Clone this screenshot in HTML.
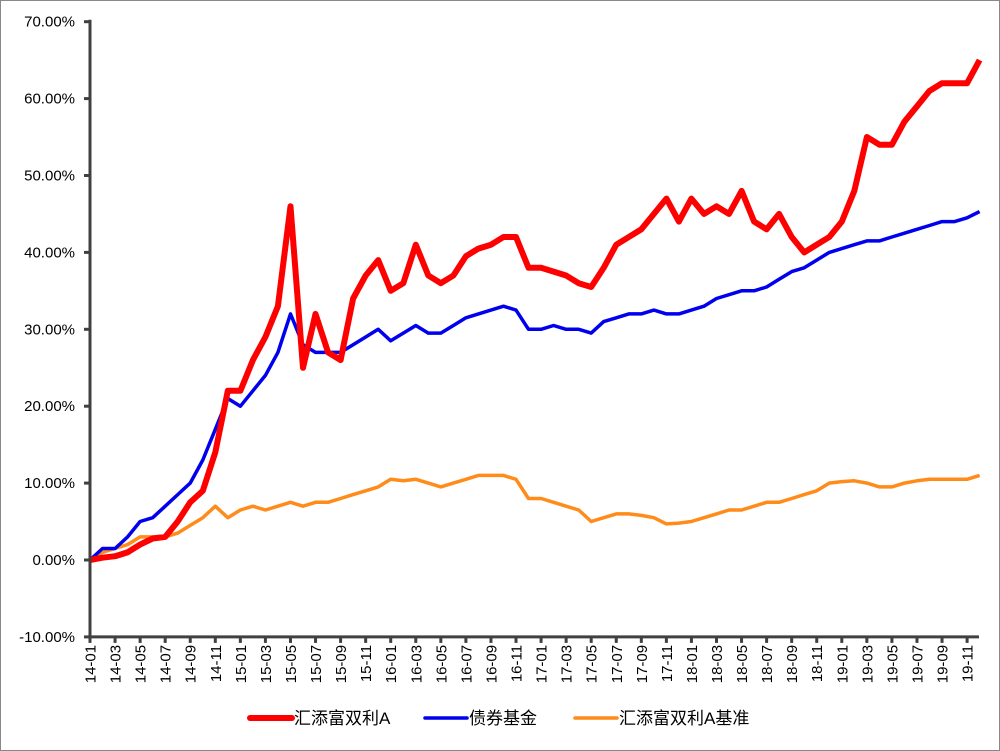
<!DOCTYPE html>
<html><head><meta charset="utf-8"><style>
html,body{margin:0;padding:0;background:#fff}
svg{display:block}
text{font-family:"Liberation Sans","Noto Sans CJK SC",sans-serif;fill:#000}
</style></head><body>
<svg id="chart" width="1000" height="751" viewBox="0 0 1000 751">
<rect x="0.5" y="0.5" width="999" height="750" fill="#fff" stroke="#888"/>
<g id="grid"></g>
<g id="series"></g>
<g id="axes"></g>
<g id="legend"></g>
</svg>
<script>
const months = [];
for (let y = 14; y <= 19; y++) for (let m = 1; m <= 12; m++) months.push(y + '-' + String(m).padStart(2, '0'));
const yTicks = [-10, 0, 10, 20, 30, 40, 50, 60, 70];
const fundValues = [0,0.3,0.5,1.0,2.0,2.8,3.0,5,7.5,9,14,22,22,26,29,33,46,25,32,27,26,34,37,39,35,36,41,37,36,37,39.5,40.5,41,42,42,38,38,37.5,37,36,35.5,38,41,42,43,45,47,44,47,45,46,45,48,44,43,45,42,40,41,42,44,48,55,54,54,57,59,61,62,62,62,65];
const bondValues = [0,1.5,1.5,3,5,5.5,7,8.5,10,13,17,21,20,22,24,27,32,28,27,27,27,28,29,30,28.5,29.5,30.5,29.5,29.5,30.5,31.5,32,32.5,33,32.5,30,30,30.5,30,30,29.5,31,31.5,32,32,32.5,32,32,32.5,33,34,34.5,35,35,35.5,36.5,37.5,38,39,40,40.5,41,41.5,41.5,42,42.5,43,43.5,44,44,44.5,45.3];
const benchValues = [0,1,1.5,2,3,3,3,3.5,4.5,5.5,7,5.5,6.5,7,6.5,7,7.5,7,7.5,7.5,8,8.5,9,9.5,10.5,10.3,10.5,10,9.5,10,10.5,11,11,11,10.5,8,8,7.5,7,6.5,5,5.5,6,6,5.8,5.5,4.7,4.8,5,5.5,6,6.5,6.5,7,7.5,7.5,8,8.5,9,10,10.2,10.3,10,9.5,9.5,10,10.3,10.5,10.5,10.5,10.5,11];
const seriesNames = ['汇添富双利A', '债券基金', '汇添富双利A基准'];

const NS = 'http://www.w3.org/2000/svg';
const X0 = 90, XSTEP = 12.53, Y0 = 560, YUNIT = 7.69;
const xs = i => X0 + XSTEP * i;
const ys = v => Y0 - YUNIT * v;
function mk(tag, attrs, parent) { const e = document.createElementNS(NS, tag); for (const k in attrs) e.setAttribute(k, attrs[k]); parent.appendChild(e); return e; }

const axes = document.getElementById('axes');
const series = document.getElementById('series');
const legend = document.getElementById('legend');

const defs = [[benchValues, '#ff8c1a', 3.5, 'benchmark-line'], [bondValues, '#0000ee', 3.5, 'bond-fund-line'], [fundValues, '#ff0000', 6, 'fund-line']];
defs.forEach(d => {
  const pts = d[0].map((v, i) => xs(i).toFixed(1) + ',' + ys(v).toFixed(1)).join(' ');
  const pl = mk('polyline', {points: pts, fill: 'none', stroke: d[1], 'stroke-width': d[2], 'stroke-linejoin': 'round'}, series);
  
  
});

const ax1 = mk('line', {x1: X0, y1: ys(70) - 2, x2: X0, y2: ys(-10) + 2, stroke: '#404040', 'stroke-width': 3}, axes);


const ax2 = mk('line', {x1: X0 - 2, y1: ys(-10), x2: 979, y2: ys(-10), stroke: '#404040', 'stroke-width': 3}, axes);


yTicks.forEach(t => {
  mk('line', {x1: X0 - 6, y1: ys(t), x2: X0, y2: ys(t), stroke: '#404040', 'stroke-width': 3}, axes);
  const tx = mk('text', {x: 75, y: ys(t) + 5, 'text-anchor': 'end', 'font-size': 15}, axes);
  tx.textContent = t.toFixed(2) + '%';
  
  
});
months.forEach((m, i) => {
  if (i % 2) return;
  const x = xs(i);
  mk('line', {x1: x, y1: ys(-10), x2: x, y2: ys(-10) + 6, stroke: '#404040', 'stroke-width': 3}, axes);
  const tx = mk('text', {x: 0, y: 0, 'text-anchor': 'end', 'font-size': 15, transform: `translate(${x + 5.5},${ys(-10) + 8}) rotate(-90)`}, axes);
  tx.textContent = m;
  
  
});

const lg = [[250, '#ff0000', 6, 0], [425, '#0000ee', 3.5, 1], [575, '#ff8c1a', 3.5, 2]];
lg.forEach(l => {
  const g = mk('g', {}, legend);
  
  
  mk('line', {x1: l[0], y1: 718, x2: l[0] + 42, y2: 718, stroke: l[1], 'stroke-width': l[2], 'stroke-linecap': 'round'}, g);
  const t = mk('text', {x: l[0] + 44, y: 724, 'font-size': 17}, g);
  t.textContent = seriesNames[l[3]];
});
</script>
</body></html>
